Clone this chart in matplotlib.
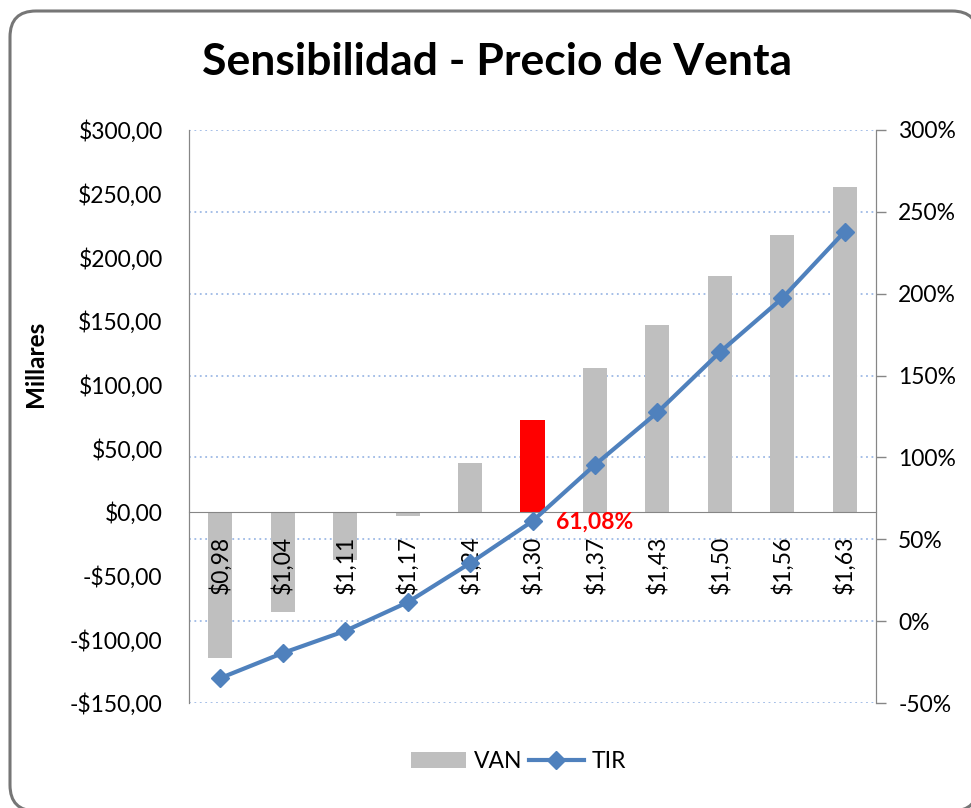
import matplotlib
matplotlib.use('Agg')
import matplotlib.pyplot as plt
from matplotlib.patches import FancyBboxPatch, Patch
from matplotlib.lines import Line2D
from matplotlib.ticker import FuncFormatter

plt.rcParams['font.family'] = ['Lato', 'DejaVu Sans']

# ── data ────────────────────────────────────────────────────────────
precios = ['$0,98', '$1,04', '$1,11', '$1,17', '$1,24', '$1,30',
           '$1,37', '$1,43', '$1,50', '$1,56', '$1,63']
van = [-114.5, -78.5, -37.5, -3.0, 38.5, 72.0,
       113.0, 147.0, 185.0, 217.5, 255.0]          # miles de $
tir = [-34.8, -19.5, -6.0, 11.5, 35.4, 61.08,
       95.5, 127.5, 164.3, 197.3, 238.0]            # %
base_idx = 5
base_label = '61,08%'

# ── palette ─────────────────────────────────────────────────────────
GRAY_BAR = '#BFBFBF'
RED_BAR = '#FF0000'
BLUE = '#4F81BD'
AXIS = '#868686'
GRID = '#9DB9E5'
FS = 16.5

fig = plt.figure(figsize=(9.71, 8.08), dpi=100)
fig.patch.set_facecolor('white')

# rounded chart frame (pixel coordinates)
bg = fig.add_axes([0, 0, 1, 1])
bg.set_xlim(0, 971)
bg.set_ylim(808, 0)
bg.axis('off')
bg.add_patch(FancyBboxPatch((10, 11), 968, 800,
                            boxstyle='round,pad=0,rounding_size=26',
                            fc='white', ec='#767676', lw=2.2))

L, R, T, B = 189, 876, 130, 703
ax = fig.add_axes([L/971, 1 - B/808, (R-L)/971, (B-T)/808])
ax.set_facecolor('none')
ax.set_axisbelow(False)      # category labels sit on top of the bars
ax2 = ax.twinx()

x = list(range(len(precios)))
colors = [RED_BAR if i == base_idx else GRAY_BAR for i in x]

# category axis crossing at zero (set before tick labels: it resets ticks)
ax.spines['bottom'].set_position(('data', 0))

# left axis: VAN
ax.set_ylim(-150, 300)
ax.set_xlim(-0.5, len(precios) - 0.5)
ax.set_yticks(range(-150, 301, 50))
ax.yaxis.set_major_formatter(FuncFormatter(
    lambda v, p: ('-' if v < 0 else '') + '$' + f'{abs(v):.2f}'.replace('.', ',')))
ax.tick_params(axis='y', length=0, pad=19, labelsize=FS)

# right axis: TIR
ax2.set_ylim(-50, 300)
ax2.set_yticks(range(-50, 301, 50))
ax2.yaxis.set_major_formatter(FuncFormatter(lambda v, p: f'{v:.0f}%'))
ax2.tick_params(axis='y', direction='out', length=7, width=1,
                color=AXIS, pad=9, labelsize=FS)

# gridlines follow the secondary axis ticks, drawn under the bars
for t in ax2.get_yticks():
    yl = -150 + (t + 50) * 450 / 350
    ax.axhline(yl, color=GRID, lw=1.3, ls=(0, (1, 2)), zorder=0)

ax.bar(x, van, width=0.385, color=colors, zorder=1)

ax2.plot(x, tir, color=BLUE, lw=3, marker='D', markersize=9,
         markeredgecolor=BLUE, zorder=3)
ax2.annotate(base_label, (base_idx, tir[base_idx]), xytext=(17, -1),
             textcoords='offset points', ha='left', va='center',
             color='#FF0000', fontsize=FS, fontweight='bold')

ax.set_xticks(x)
ax.set_xticklabels(precios, rotation=90, fontsize=FS)
ax.tick_params(axis='x', length=0, pad=17)

for a in (ax, ax2):
    a.spines['top'].set_visible(False)
    a.spines['bottom'].set_color(AXIS)
    a.spines['left'].set_color(AXIS)
    a.spines['right'].set_color(AXIS)
ax2.spines['bottom'].set_visible(False)

fig.text(35/971, 1 - 364/808, 'Millares', rotation=90, ha='center',
         va='center', fontsize=17.5, fontweight='bold')

fig.text(0.512, 0.923, 'Sensibilidad - Precio de Venta',
         ha='center', va='center', fontsize=32, fontweight='bold')

handles = [Patch(fc=GRAY_BAR, ec='none', label='VAN'),
           Line2D([], [], color=BLUE, lw=3, marker='D', markersize=9,
                  label='TIR')]
ax.legend(handles=handles, loc='center', bbox_to_anchor=(0.534, 0.057),
          bbox_transform=fig.transFigure, ncol=2, frameon=False,
          fontsize=FS, handlelength=2.4, handletextpad=0.35,
          columnspacing=0.3)

fig.savefig('out.png', dpi=100, facecolor='white')
